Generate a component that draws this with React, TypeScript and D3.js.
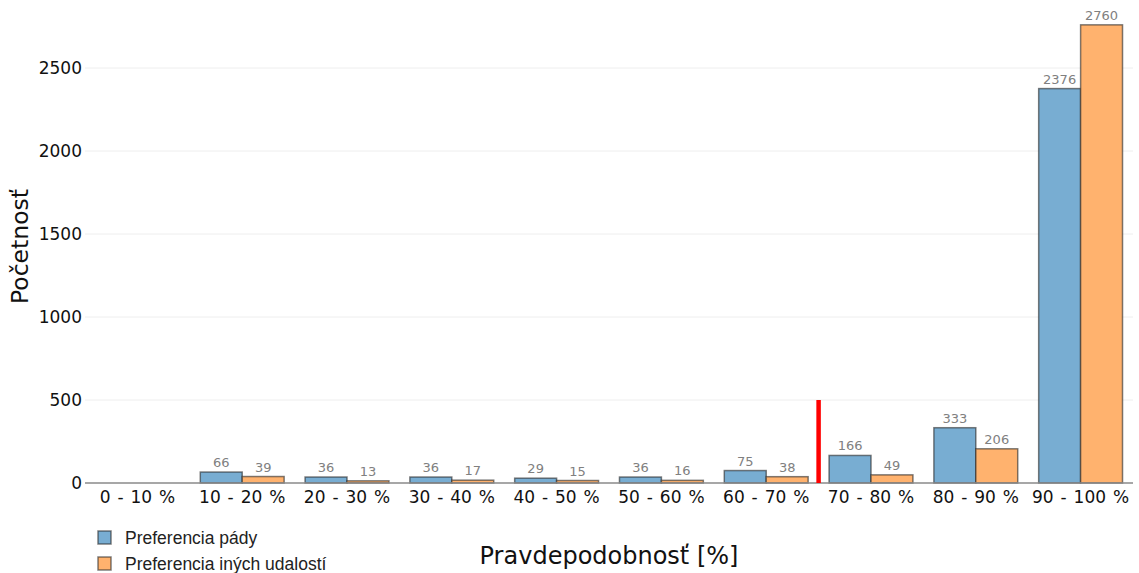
import React from 'react';
import * as d3 from 'd3';

const categories = ['0 - 10 %', '10 - 20 %', '20 - 30 %', '30 - 40 %', '40 - 50 %', '50 - 60 %', '60 - 70 %', '70 - 80 %', '80 - 90 %', '90 - 100 %'];
const padyValues: (number | null)[] = [null, 66, 36, 36, 29, 36, 75, 166, 333, 2376];
const otherValues: (number | null)[] = [null, 39, 13, 17, 15, 16, 38, 49, 206, 2760];
const seriesNames = ['Preferencia pády', 'Preferencia iných udalostí'];
const yTicks = [0, 500, 1000, 1500, 2000, 2500];
// threshold marker: between 60-70 % and 70-80 %, up to 500
const thresholdCategory = '70 - 80 %';
const thresholdValue = 500;

const W = 1139;
const H = 573;
const margin = { top: 10, right: 6, bottom: 90, left: 85 };

const blue = '#78add2';
const orange = '#ffb26e';
const barStroke = 'rgba(40,40,40,0.6)';

export default function App() {
  const innerW = W - margin.left - margin.right;
  const innerH = H - margin.top - margin.bottom;

  const x = d3.scaleBand<string>().domain(categories).range([0, innerW]).paddingInner(0.2).paddingOuter(0.1);
  const band = d3.scaleBand<string>().domain(categories).range([0, innerW]);
  const xSub = d3.scaleBand<number>().domain([0, 1]).range([0, x.bandwidth()]);
  const y = d3.scaleLinear().domain([0, innerH / 0.166]).range([innerH, 0]);

  const series = [padyValues, otherValues];
  const colors = [blue, orange];
  const axisFont = 'DejaVu Sans, Verdana, sans-serif';

  return (
    <svg width={W} height={H} style={{ position: 'absolute', left: 0, top: 0, background: '#fff' }}>
      <g transform={`translate(${margin.left},${margin.top})`}>
        {yTicks.filter(t => t > 0).map(t => (
          <line key={t} x1={0} x2={innerW} y1={y(t)} y2={y(t)} stroke="#eeeeee" strokeWidth={1} />
        ))}
        {yTicks.map(t => (
          <text key={'l' + t} x={-3} y={y(t)} dy="0.36em" textAnchor="end" fontFamily={axisFont} fontSize={17} fill="#111">
            {t}
          </text>
        ))}

        {series.map((vals, si) =>
          categories.map((c, i) => {
            const v = vals[i];
            if (v == null) return null;
            const bx = (x(c) as number) + (xSub(si) as number);
            return (
              <g key={`${si}-${c}`}>
                <rect
                  x={bx}
                  y={y(v)}
                  width={xSub.bandwidth()}
                  height={innerH - y(v)}
                  fill={colors[si]}
                  stroke={barStroke}
                  strokeWidth={1.5}
                />
                <text
                  x={bx + xSub.bandwidth() / 2}
                  y={y(v) - 5}
                  textAnchor="middle"
                  fontFamily={axisFont}
                  fontSize={13}
                  fill="#808080"
                >
                  {v}
                </text>
              </g>
            );
          })
        )}

        <line x1={0} x2={innerW} y1={innerH} y2={innerH} stroke="#8a8a8a" strokeWidth={1.5} />

        <line
          x1={band(thresholdCategory) as number}
          x2={band(thresholdCategory) as number}
          y1={y(thresholdValue)}
          y2={innerH}
          stroke="#ff0000"
          strokeWidth={4.5}
        />

        {categories.map(c => (
          <text
            key={'x' + c}
            x={(band(c) as number) + band.bandwidth() / 2}
            y={innerH + 20}
            textAnchor="middle"
            fontFamily={axisFont}
            fontSize={17}
            wordSpacing={1.5}
            fill="#111"
          >
            {c}
          </text>
        ))}
      </g>

      <text
        transform={`translate(28,${margin.top + innerH / 2}) rotate(-90)`}
        textAnchor="middle"
        fontFamily={axisFont}
        fontSize={23.5}
        fill="#111"
      >
        Početnosť
      </text>
      <text x={609} y={564} textAnchor="middle" fontFamily={axisFont} fontSize={24} fill="#111">
        Pravdepodobnosť [%]
      </text>

      {seriesNames.map((n, i) => (
        <g key={n} transform={`translate(98,${531 + i * 26})`}>
          <rect x={0} y={0} width={13} height={13} fill={colors[i]} stroke={barStroke} strokeWidth={1.5} />
          <text x={27} y={6.5} dy="0.36em" fontFamily="Liberation Sans, Arial, sans-serif" fontSize={17.5} fill="#222">
            {n}
          </text>
        </g>
      ))}
    </svg>
  );
}
